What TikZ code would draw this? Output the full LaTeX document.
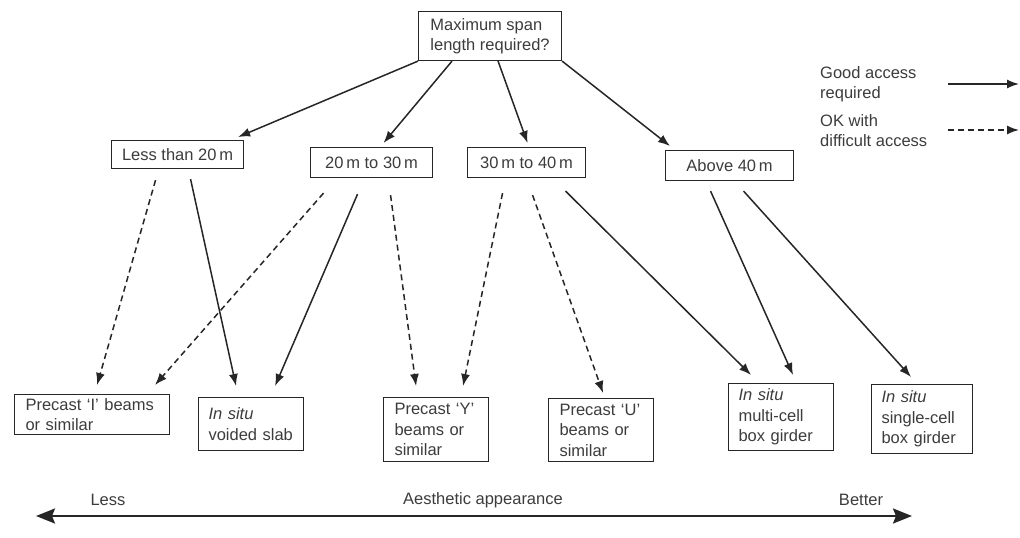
\documentclass[tikz,border=0pt]{standalone}
\usepackage{fontspec}
\setmainfont{Liberation Sans}
\usetikzlibrary{arrows.meta}
\definecolor{ink}{HTML}{262626}
\tikzset{
  >={Latex[length=12pt,width=9pt]},
  box/.style={draw=ink, line width=1.1pt, anchor=north west, align=left,
    inner sep=0pt, text=ink!90, font=\fontsize{16.5}{20.5}\selectfont},
  deck/.style={box, inner xsep=11pt},
  caption/.style={text=ink!90, align=left, inner sep=0pt,
    font=\fontsize{16.5}{20.5}\selectfont},
  good/.style={->, draw=ink, line width=1.5pt},
  ok/.style={good, dash pattern=on 6pt off 4pt},
  axis/.style={{Stealth[length=19pt,width=15pt,inset=3pt]}-{Stealth[length=19pt,width=15pt,inset=3pt]},
    draw=ink, line width=2.2pt}
}

\begin{document}
\begin{tikzpicture}[x=1pt, y=-1pt]
  \useasboundingbox (0,0) rectangle (1020,538);

  % question
  \node[box, minimum width=143pt, minimum height=49pt] (span) at (418,11) {Maximum span\\length required?};

  % span ranges
  \node[box, minimum width=132pt, minimum height=28pt] (lt20) at (111,140) {Less than 20\,m};
  \node[box, minimum width=122pt, minimum height=30pt] (r2030) at (310,147) {20\,m to 30\,m};
  \node[box, minimum width=118pt, minimum height=30pt] (r3040) at (467,147) {30\,m to 40\,m};
  \node[box, minimum width=128pt, minimum height=30pt] (gt40) at (665,150) {Above 40\,m};

  % deck types
  \node[deck, text width=133pt, minimum height=40pt] (pci) at (14,394) {Precast `I' beams\\or similar};
  \node[deck, inner xsep=10pt, text width=85pt, minimum height=53pt] (vslab) at (198,397) {\textit{In situ}\\voided slab};
  \node[deck, text width=83pt, minimum height=64pt] (pcy) at (383,397) {Precast `Y'\\beams or\\similar};
  \node[deck, text width=83pt, minimum height=63pt] (pcu) at (548,398) {Precast `U'\\beams or\\similar};
  \node[deck, inner xsep=10pt, text width=85pt, minimum height=67pt] (mcell) at (728,383) {\textit{In situ}\\multi-cell\\box girder};
  \node[deck, inner xsep=10pt, text width=81pt, minimum height=69pt] (scell) at (871,384) {\textit{In situ}\\single-cell\\box girder};

  % legend
  \node[caption, anchor=north west] (goodkey) at (820,66) {Good access\\required};
  \node[caption, anchor=north west] (okkey) at (820,114) {OK with\\difficult access};
  \coordinate (good0) at (948,84);
  \coordinate (good1) at (1019,84);
  \coordinate (ok0) at (948,130);
  \coordinate (ok1) at (1019,130);
  \draw[good] (good0) -- (good1);
  \draw[ok] (ok0) -- (ok1);

  % first choice
  \draw[good] (span.south west) -- ([shift={(-6,-3)}]lt20.north east);
  \draw[good] ([shift={(34,0)}]span.south west) -- ([shift={(12,-4)}]r2030.north);
  \draw[good] ([shift={(8,0)}]span.south) -- ([shift={(1,-4)}]r3040.north);
  \draw[good] (span.south east) -- ([shift={(5,-4)}]gt40.north west);

  % second choice
  \draw[ok] ([shift={(-22,11)}]lt20.south) -- ([shift={(5,-9)}]pci.north);
  \draw[good] ([shift={(13,10)}]lt20.south) -- ([shift={(-15,-11)}]vslab.north);
  \draw[ok] ([shift={(-48,15)}]r2030.south) -- ([shift={(63,-9)}]pci.north);
  \draw[good] ([shift={(-14,16)}]r2030.south) -- ([shift={(24,-11)}]vslab.north);
  \draw[ok] ([shift={(19,17)}]r2030.south) -- ([shift={(-20,-11)}]pcy.north);
  \draw[ok] ([shift={(-24,15)}]r3040.south) -- ([shift={(27,-11)}]pcy.north);
  \draw[ok] ([shift={(6,17)}]r3040.south) -- ([shift={(2,-5)}]pcu.north);
  \draw[good] ([shift={(39,13)}]r3040.south) -- ([shift={(-30,-8)}]mcell.north);
  \draw[good] ([shift={(-19,10)}]gt40.south) -- ([shift={(12,-8)}]mcell.north);
  \draw[good] ([shift={(14,10)}]gt40.south) -- ([shift={(-11,-7)}]scell.north);

  % aesthetics scale
  \node[caption] (less) at (108,500) {Less};
  \node[caption] (aesth) at (483,500) {Aesthetic appearance};
  \node[caption] (better) at (861,500) {Better};
  \coordinate (lessend) at (36,516);
  \coordinate (betterend) at (912,516);
  \draw[axis] (lessend) -- (betterend);
\end{tikzpicture}
\end{document}
